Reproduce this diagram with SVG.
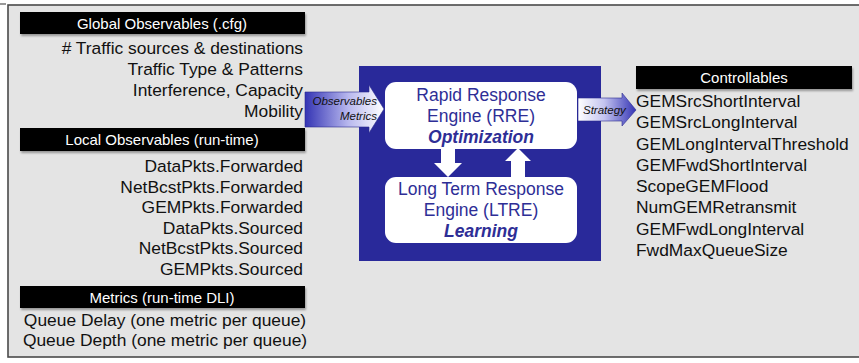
<svg xmlns="http://www.w3.org/2000/svg" width="859" height="363" viewBox="0 0 859 363">
<defs>
<style>
.t{font-family:"Liberation Sans",Arial,sans-serif;font-size:17.4px;fill:#111}
.r{text-anchor:end}
.c{text-anchor:middle}
.h{font-family:"Liberation Sans",Arial,sans-serif;font-size:15px;fill:#fff;text-anchor:middle}
.hb{fill:#000;filter:url(#sh)}
.b{font-family:"Liberation Sans",Arial,sans-serif;font-size:17.5px;fill:#2e2e96;text-anchor:middle}
.bi{font-weight:bold;font-style:italic}
.ai{font-family:"Liberation Sans",Arial,sans-serif;font-size:11.5px;font-style:italic;fill:#111}
.eng{fill:#fff}
</style>
<filter id="sh" x="-5%" y="-30%" width="110%" height="180%">
<feGaussianBlur in="SourceAlpha" stdDeviation="1.2"/>
<feOffset dx="1" dy="2" result="o"/>
<feComponentTransfer><feFuncA type="linear" slope="0.35"/></feComponentTransfer>
<feMerge><feMergeNode/><feMergeNode in="SourceGraphic"/></feMerge>
</filter>
<linearGradient id="gIn" x1="0" y1="0" x2="1" y2="0">
<stop offset="0" stop-color="#3434b4"/>
<stop offset="0.55" stop-color="#b8b8ee"/>
<stop offset="1" stop-color="#ffffff"/>
</linearGradient>
<linearGradient id="gOut" x1="0" y1="0" x2="1" y2="0">
<stop offset="0" stop-color="#ffffff"/>
<stop offset="0.45" stop-color="#c4c4f0"/>
<stop offset="1" stop-color="#3434b4"/>
</linearGradient>
</defs>
<rect width="859" height="363" fill="#fff"/>
<line x1="0" y1="4" x2="6" y2="4" stroke="#777" stroke-width="1.5"/>
<rect x="8" y="5" width="860" height="352" fill="#e4e4e4" stroke="#4a4a4a" stroke-width="1.6"/>

<g id="global-observables">
<rect class="hb" x="20" y="12" width="285" height="22"/>
<text class="h" x="162" y="28.5">Global Observables (.cfg)</text>
<text class="t r" x="303" y="54"># Traffic sources &amp; destinations</text>
<text class="t r" x="303" y="75">Traffic Type &amp; Patterns</text>
<text class="t r" x="303" y="96">Interference, Capacity</text>
<text class="t r" x="303" y="117">Mobility</text>
</g>

<g id="local-observables">
<rect class="hb" x="20" y="128" width="285" height="23"/>
<text class="h" x="162" y="145">Local Observables (run-time)</text>
<text class="t r" x="303" y="172">DataPkts.Forwarded</text>
<text class="t r" x="303" y="192.5">NetBcstPkts.Forwarded</text>
<text class="t r" x="303" y="213">GEMPkts.Forwarded</text>
<text class="t r" x="303" y="233.5">DataPkts.Sourced</text>
<text class="t r" x="303" y="254">NetBcstPkts.Sourced</text>
<text class="t r" x="303" y="274.5">GEMPkts.Sourced</text>
</g>

<g id="metrics">
<rect class="hb" x="20" y="286" width="285" height="22"/>
<text class="h" x="162" y="302.5">Metrics (run-time DLI)</text>
<text class="t c" x="165" y="326">Queue Delay (one metric per queue)</text>
<text class="t c" x="165" y="346">Queue Depth (one metric per queue)</text>
</g>

<g id="engine">
<rect x="359" y="66" width="242" height="195" fill="#29299a"/>
<g id="rre">
<rect class="eng" x="385" y="82" width="192" height="67" rx="11"/>
<text class="b" x="481" y="101">Rapid Response</text>
<text class="b" x="481" y="122">Engine (RRE)</text>
<text class="b bi" x="481" y="143">Optimization</text>
</g>
<g id="ltre">
<rect class="eng" x="385" y="177" width="192" height="66" rx="11"/>
<text class="b" x="481" y="195">Long Term Response</text>
<text class="b" x="481" y="216">Engine (LTRE)</text>
<text class="b bi" x="481" y="237">Learning</text>
</g>
</g>

<g id="connectors">
<polygon fill="#fff" points="441,149 455,149 455,163 462,163 448,177 434,163 441,163"/>
<polygon fill="#fff" points="511,177 525,177 525,161 531,161 518,148 505,161 511,161"/>
<polygon fill="url(#gIn)" stroke="#2a2a8e" stroke-width="0.6" points="305,92 369,92 369,85 384,109 369,133 369,127 305,127"/>
<text class="ai r" x="377" y="105">Observables</text>
<text class="ai r" x="377" y="120">Metrics</text>
<polygon fill="url(#gOut)" stroke="#2a2a8e" stroke-width="0.6" points="578,98 622,98 622,93 636,110 622,126 622,121 578,121"/>
<text class="ai" x="583" y="114">Strategy</text>
</g>

<g id="controllables">
<rect class="hb" x="636" y="66" width="216" height="23"/>
<text class="h" x="744" y="82.5">Controllables</text>
<text class="t" x="636" y="107">GEMSrcShortInterval</text>
<text class="t" x="636" y="128">GEMSrcLongInterval</text>
<text class="t" x="636" y="149.5">GEMLongIntervalThreshold</text>
<text class="t" x="636" y="171">GEMFwdShortInterval</text>
<text class="t" x="636" y="192">ScopeGEMFlood</text>
<text class="t" x="636" y="213">NumGEMRetransmit</text>
<text class="t" x="636" y="234.5">GEMFwdLongInterval</text>
<text class="t" x="636" y="255.5">FwdMaxQueueSize</text>
</g>
</svg>
